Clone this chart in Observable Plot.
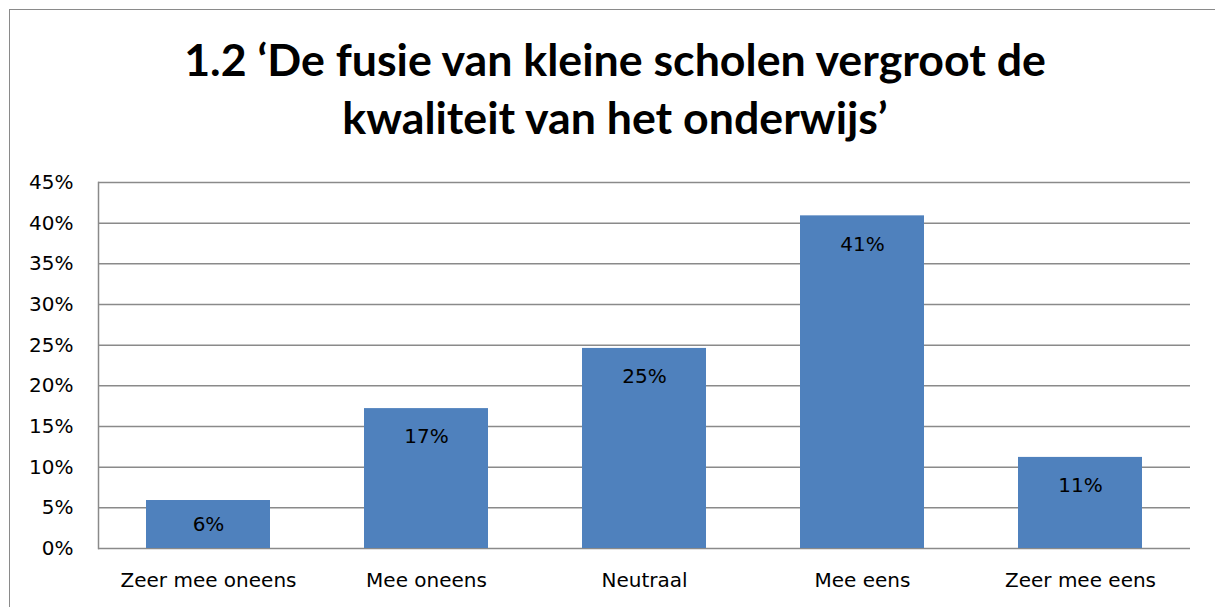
<!DOCTYPE html>
<html>
<head>
<meta charset="utf-8">
<script src="https://cdn.jsdelivr.net/npm/d3@7"></script>
<script src="https://cdn.jsdelivr.net/npm/@observablehq/plot@0.6"></script>
<style>
  html, body { margin: 0; padding: 0; background: #fff; width: 1215px; height: 607px; overflow: hidden; }
  #frame { position: absolute; left: 9px; top: 9px; width: 1240px; height: 700px; border: 1.5px solid #8a8a8a; box-sizing: border-box; }
  #title { position: absolute; left: 0; top: 30px; width: 1230px; text-align: center; font-family: Lato, "Open Sans", sans-serif; font-weight: 700; font-size: 44.7px; line-height: 58px; color: #000; }
  #chart { position: absolute; left: 0; top: 160px; }
</style>
</head>
<body>
<div id="frame"></div>
<div id="title">1.2 ‘De fusie van kleine scholen vergroot de<br>kwaliteit van het onderwijs’</div>
<div id="chart"></div>
<script>
const categories = ["Zeer mee oneens", "Mee oneens", "Neutraal", "Mee eens", "Zeer mee eens"];
const values = [0.059, 0.172, 0.246, 0.409, 0.112];
const yTicks = [0, 0.05, 0.10, 0.15, 0.20, 0.25, 0.30, 0.35, 0.40, 0.45];

const data = categories.map((c, i) => ({category: c, value: values[i]}));
const pct = d3.format(".0%");
const font = "'DejaVu Sans', sans-serif";

const chart = Plot.plot({
  width: 1215,
  height: 447,
  marginLeft: 98,
  marginRight: 25,
  marginTop: 22,
  marginBottom: 59,
  style: {fontFamily: font, fontSize: "20px", color: "#000", background: "transparent"},
  x: {domain: categories, paddingInner: 0.43, paddingOuter: 0.215, label: null},
  y: {domain: [0, 0.45], label: null},
  marks: [
    Plot.ruleY(yTicks, {stroke: "#8a8a8a", strokeWidth: 1.5}),
    Plot.frame({anchor: "left", stroke: "#8a8a8a", strokeWidth: 1.5}),
    Plot.barY(data, {x: "category", y: "value", fill: "#4f81bd"}),
    Plot.text(data, {
      x: "category",
      y: d => Math.max(d.value - 0.035, d.value / 2),
      text: d => pct(d.value),
      fill: "#000",
      fontSize: 20,
      lineAnchor: "middle"
    }),
    Plot.axisY(yTicks, {tickSize: 0, tickPadding: 25, tickFormat: pct, fontSize: 20, label: null}),
    Plot.axisX({tickSize: 0, tickPadding: 24, fontSize: 20, label: null})
  ]
});
document.getElementById("chart").appendChild(chart);
</script>
</body>
</html>
